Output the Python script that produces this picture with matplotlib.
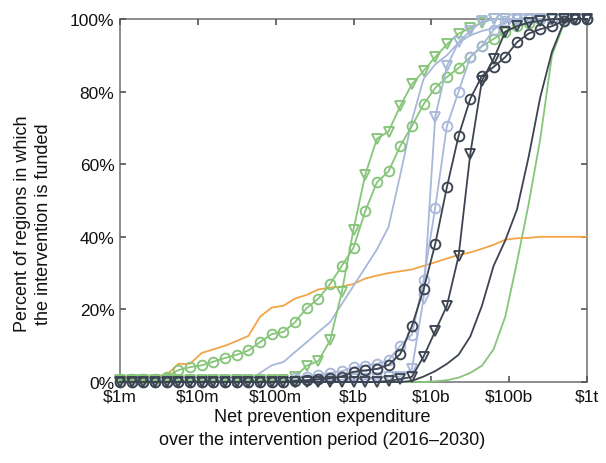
import numpy as np
import matplotlib
matplotlib.use("Agg")
import matplotlib.pyplot as plt
from matplotlib.ticker import FixedLocator, NullLocator

# x grid: expenditure in dollars, 41 points from $1m to $1t
log_x = [6 + 0.15 * i for i in range(41)]
expenditure = [10 ** v for v in log_x]

orange_line = [1.5, 1.5, 1.5, 1.5, 2, 5, 5, 8, 9, 10, 11.3, 12.7, 18, 20.5, 21, 23,
               24, 25.5, 26, 26.3, 27, 28.5, 29.3, 30, 30.5, 31, 32, 33, 34, 35, 35.7,
               36.7, 37.8, 39.2, 39.6, 39.7, 40, 40, 40, 40, 40]

green_tri = [0.5] * 15 + [1.5, 4.5, 5.8, 11.5, 24.8, 42, 57, 67, 69, 76, 82, 85.7, 89.5,
                          93, 96, 97.5, 99, 100, 100, 100, 100, 100, 100, 100, 100, 100]
green_circ = [0.8, 0.8, 0.8, 0.8, 1.5, 3.3, 4.1, 4.6, 5.6, 6.6, 7.5, 8.7, 11, 13.2, 13.8,
              16.5, 20.4, 23, 27, 32, 37, 47, 55, 58, 65, 70.5, 76.5, 81, 84, 86.5, 89.5,
              92.5, 94.5, 96.5, 98, 99, 100, 100, 100, 100, 100]
green_line = [0] * 27 + [0.2, 0.5, 1.2, 2.5, 4.5, 9, 18, 33, 49, 67, 90, 98.5, 100, 100]

blue_line = [0] * 11 + [0.3, 2.5, 4.6, 5.5, 8.3, 11, 13.8, 16.5, 21.5, 26.5, 31.5, 36.5,
                        42.7, 57, 72, 83.5, 87.5, 90, 93.5, 95.5, 96.7, 97.5, 99, 100,
                        100, 100, 100, 100, 100, 100]
blue_tri = [0] * 16 + [0.3, 0.4, 0.5, 0.6, 0.7, 0.8, 1, 1.5, 1.5, 3.5, 23, 73, 87, 93.6,
                       96.7, 99.4, 100, 100, 100, 100, 100, 100, 100, 100, 100]
blue_circ = [0] * 15 + [1, 1.5, 2, 2.5, 3, 4, 4.5, 5, 6, 10, 13, 28, 48, 70.5, 80, 89.5,
                        92.6, 97, 99.5, 100, 100, 100, 100, 100, 100, 100]

dark_circ = [0] * 15 + [0.3, 0.5, 0.8, 1, 1.5, 2.8, 3.2, 3.6, 4.7, 7.7, 15.4, 25.5, 38,
                        53.7, 67.8, 78, 84.3, 86.8, 89.5, 93.6, 96, 97.2, 98, 99.5, 100, 100]
dark_tri = [0] * 23 + [0.3, 0.8, 1.4, 7, 14, 21, 34.7, 62.8, 83, 89, 96.5, 98, 99, 99.5,
                       100, 100, 100, 100]
dark_line = [0] * 25 + [0.3, 1.5, 3, 5, 7.5, 12.5, 21, 32, 39, 47.5, 62, 78.5, 91, 99,
                        100, 100]

x_tick_vals = [1e6, 1e7, 1e8, 1e9, 1e10, 1e11, 1e12]
x_tick_labels = ["$1m", "$10m", "$100m", "$1b", "$10b", "$100b", "$1t"]
y_tick_vals = [0, 20, 40, 60, 80, 100]
y_tick_labels = ["0%", "20%", "40%", "60%", "80%", "100%"]

GREEN = "#86c57a"
BLUE = "#a8b7da"
DARK = "#3b4450"
ORANGE = "#f2a446"

plt.rcParams["font.family"] = ["Liberation Sans", "DejaVu Sans"]

W, H = 606, 464
fig = plt.figure(figsize=(W / 100, H / 100), dpi=100)
ax = fig.add_axes([120 / W, 1 - 383 / H, 467 / W, 363 / H])

lw = 1.3
ms = 7
mew = 1.35

def plot(y, color, marker=None, z=2):
    kw = dict(color=color, lw=lw, clip_on=False, zorder=z)
    if marker:
        kw.update(marker=marker, ms=ms, mfc="none", mec=color, mew=mew)
    ax.plot(expenditure, y, **kw)

plot(green_line, GREEN, z=2)
plot(orange_line, ORANGE, z=2)
plot(blue_line, BLUE, z=3)
plot(green_circ, GREEN, "o", z=3)
plot(green_tri, GREEN, "v", z=3)
plot(blue_circ, BLUE, "o", z=4)
plot(blue_tri, BLUE, "v", z=4)
plot(dark_line, DARK, z=5)
plot(dark_circ, DARK, "o", z=6)
plot(dark_tri, DARK, "v", z=6)

ax.set_xscale("log")
ax.set_xlim(1e6, 1e12)
ax.set_ylim(0, 100)
ax.xaxis.set_major_locator(FixedLocator(x_tick_vals))
ax.xaxis.set_minor_locator(NullLocator())
ax.set_xticks(x_tick_vals)
ax.set_xticklabels(x_tick_labels)
ax.set_yticks(y_tick_vals)
ax.set_yticklabels(y_tick_labels)

for s in ax.spines.values():
    s.set_color("#8c8c8c")
    s.set_linewidth(1.4)
    s.set_zorder(1)
ax.tick_params(which="both", direction="in", length=4, width=1.2, color="#555555",
               top=True, right=True, labelsize=12.5, labelcolor="#111111")
ax.tick_params(axis="x", pad=5)
ax.tick_params(axis="y", pad=4)

fig.text(322 / W, 1 - 429 / H,
         "Net prevention expenditure\nover the intervention period (2016\u20132030)",
         ha="center", va="center", fontsize=13, linespacing=1.4, color="#111111")
fig.text(33 / W, 1 - 224 / H,
         "Percent of regions in which\nthe intervention is funded",
         ha="center", va="center", rotation=90, fontsize=13, linespacing=1.3,
         color="#111111")

fig.savefig("out.png", dpi=100)
